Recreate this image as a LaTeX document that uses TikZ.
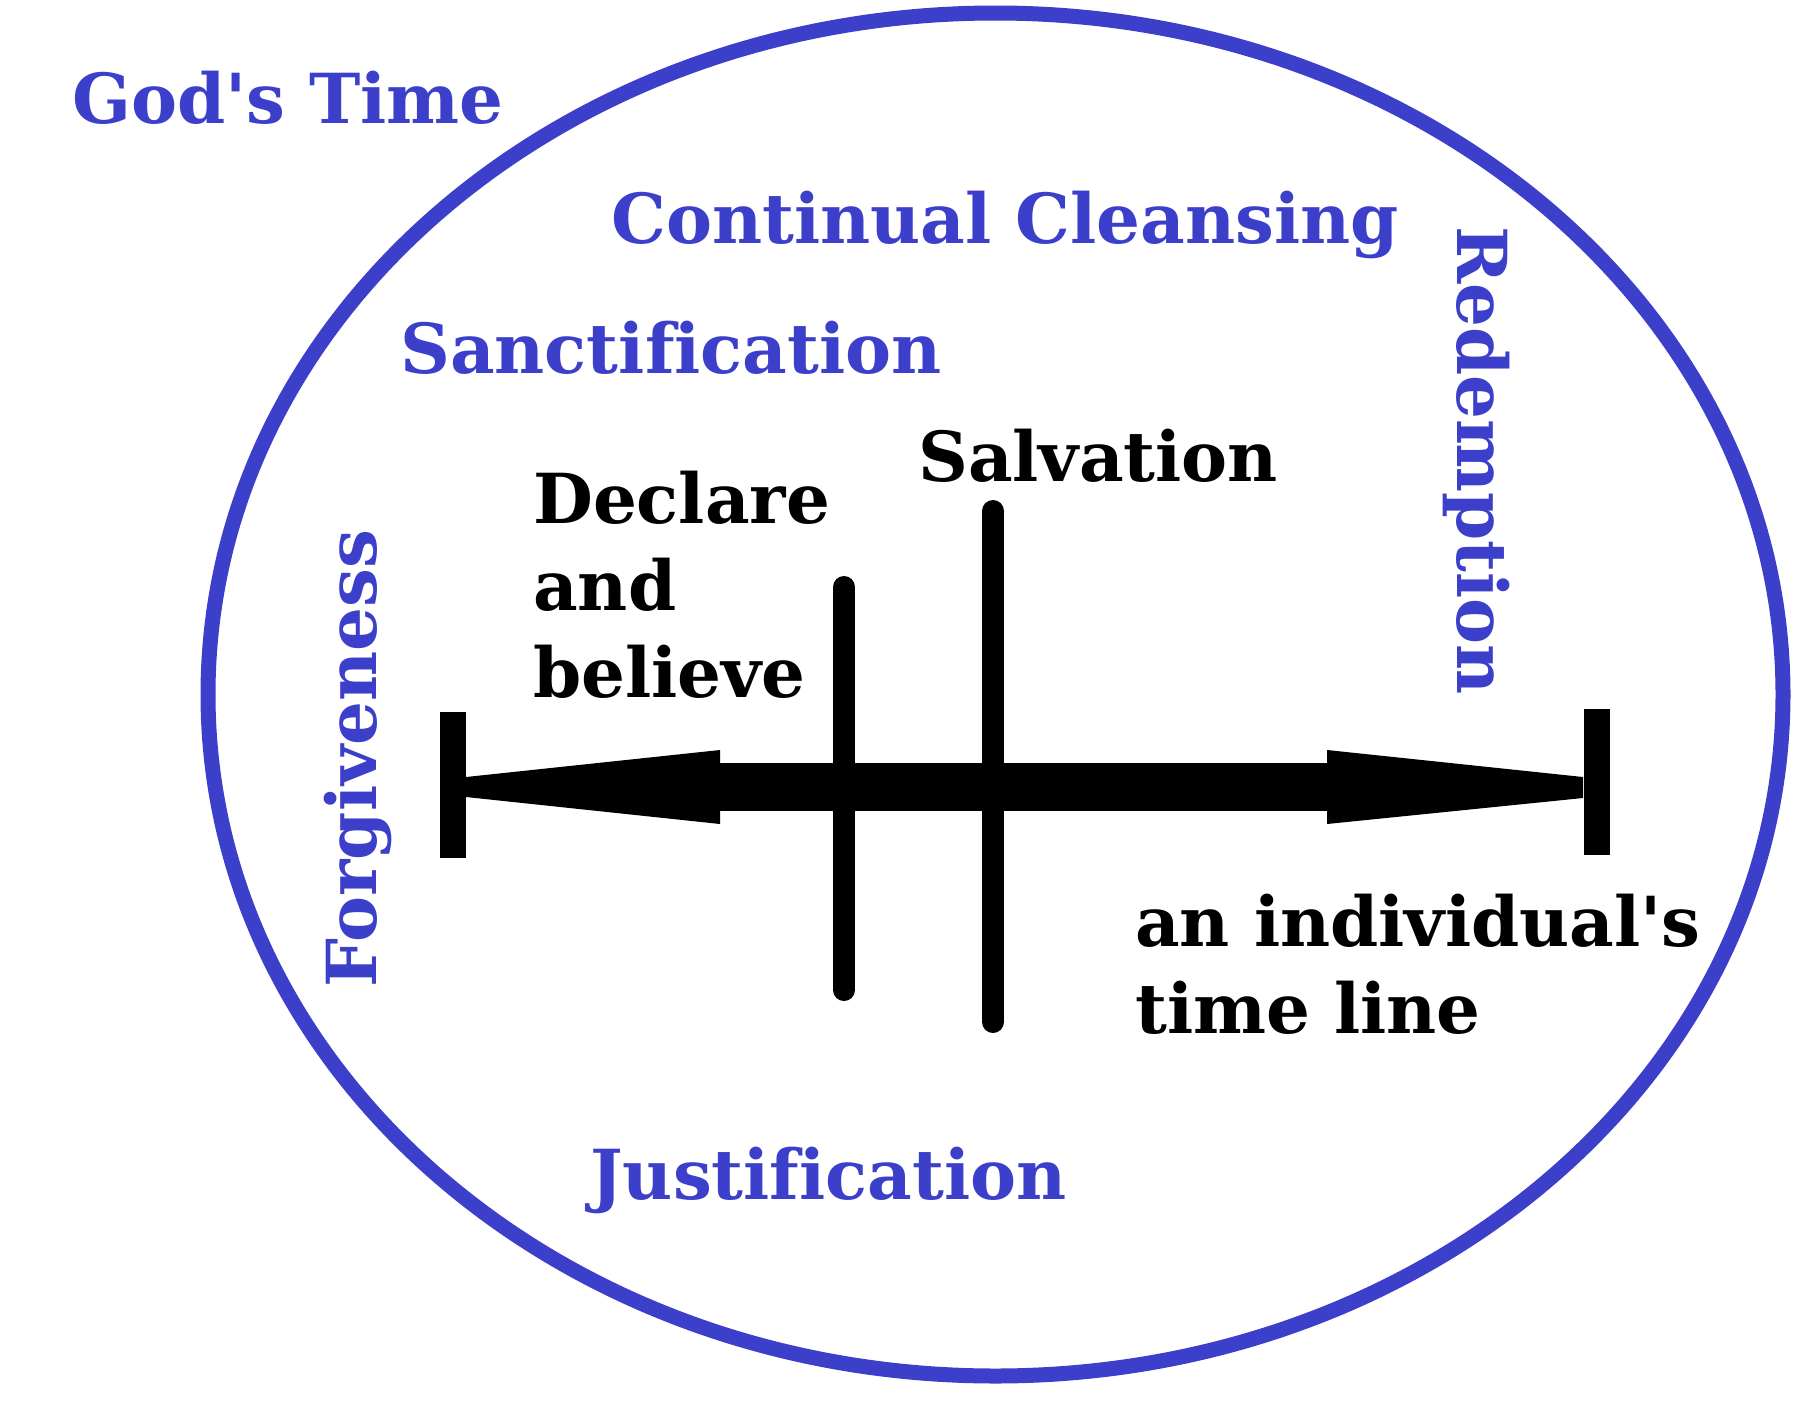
\documentclass[tikz,border=0pt]{standalone}
\usepackage{fontspec}
\usetikzlibrary{positioning}
\newfontfamily\slabfont[Ligatures=NoCommon]{DejaVu Serif}
\definecolor{godblue}{HTML}{3B3FCA}

\begin{document}
\begin{tikzpicture}[x=1pt,y=-1pt, every node/.style={inner sep=0pt,anchor=base west,align=left,font=\slabfont\bfseries\fontsize{69}{87}\selectfont}, term/.style={text=godblue}, tl/.style={line width=#1}]
\useasboundingbox (0,0) rectangle (1816,1406);
\draw[godblue,line width=15] (995.5,694.5) ellipse [x radius=787.5, y radius=681.5];
\node[term] (gods) at (72,123) {God's Time}; \node[term] (clean) at (611,243) {Continual Cleansing}; \node[term] (sanct) at (400,373) {Sanctification};
\node[term,rotate=-90] (redem) at (1457,226) {Redemption}; \node[term,rotate=90] (forg) at (376,988) {Forgiveness}; \node[term] (just) at (590,1199) {Justification};
\node (salv) at (918,481) {Salvation}; \node (decl) at (533,697) {Declare\\and\\believe}; \node (indiv) at (1135,1033) {an individual's\\time line};
% the time line
\coordinate (start) at (453,785); \coordinate (end) at (1597,782); \coordinate (lhead) at (720,787); \coordinate (rhead) at (1327,787);
\draw[tl=26] (453,712) -- (start) -- (453,858); \draw[tl=26] (1597,709) -- (end) -- (1597,855);
\draw[tl=48] (lhead) -- (rhead);
\fill (466,777) -- (720,750) -- (720,824) -- (466,797) -- cycle; \fill (1583,777) -- (1327,750) -- (1327,824) -- (1583,798) -- cycle;
\draw[tl=22,line cap=round] (844,587) -- (844,990); \draw[tl=22,line cap=round] (993,511) -- (993,1022);
\end{tikzpicture}
\end{document}
